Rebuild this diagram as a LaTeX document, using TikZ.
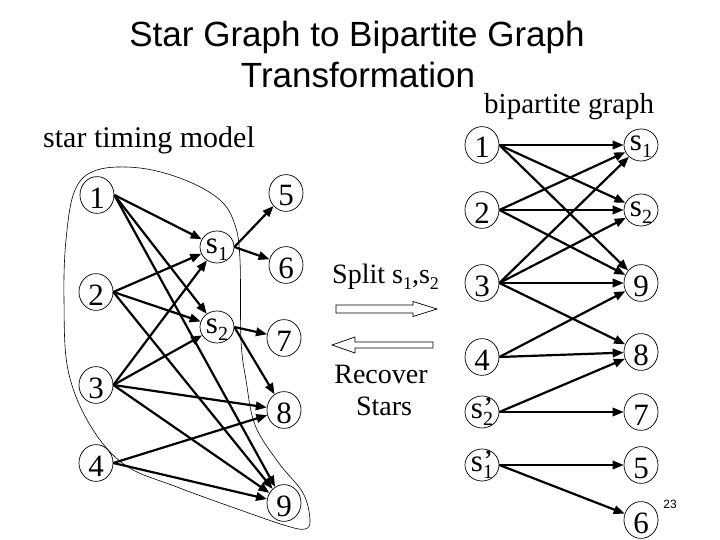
\documentclass[tikz,border=0pt]{standalone}
\usepackage{fontspec}
\setmainfont{Liberation Serif}
\newfontfamily\titlefont{Liberation Sans}
\usetikzlibrary{arrows.meta,shapes.geometric}
\newcommand{\ssub}[1]{s\raisebox{-7pt}{\fontsize{20}{20}\selectfont #1}}
\newcommand{\ssubp}[1]{s\rlap{'}\raisebox{-7pt}{\fontsize{20}{20}\selectfont #1}}
\newcommand{\tsub}[1]{s\raisebox{-6pt}{\fontsize{18}{18}\selectfont #1}}
\begin{document}
\begin{tikzpicture}[x=1pt,y=-1pt,
  vtx/.style={ellipse,draw,line width=0.7pt,minimum width=34pt,minimum height=32pt,inner sep=0pt,
    font=\fontsize{31}{31}\selectfont,text height=26pt,text depth=0pt},
  svtx/.style={vtx,text height=12pt},
  edge/.style={line width=2.2pt,-{Triangle[length=11pt,width=8.5pt]}},
  txt/.style={inner sep=0pt,font=\fontsize{28}{28}\selectfont},
  blockarrow/.style={line width=0.7pt}
  ]
\useasboundingbox (0,0) rectangle (720,540);

% titles
\node[inner sep=0pt,font=\titlefont\fontsize{35}{35}\selectfont,anchor=base] (t1) at (357,47) {Star Graph to Bipartite Graph};
\node[inner sep=0pt,font=\titlefont\fontsize{35}{35}\selectfont,anchor=base] (t2) at (358,88) {Transformation};
\node[txt,font=\fontsize{29}{29}\selectfont,anchor=base west] (bg) at (484,114) {bipartite graph};
\node[txt,font=\fontsize{30}{30}\selectfont,anchor=base west] (stm) at (43,148) {star timing model};
\node[txt,anchor=base west] (split) at (332,283) {Split \tsub1,\tsub2};
\node[txt,anchor=base] (rec) at (381,383) {Recover};
\node[txt,anchor=base] (stars) at (384,415) {Stars};
\node[inner sep=0pt,font=\titlefont\fontsize{12}{12}\selectfont] (pg) at (670,504) {23};

% lasso
\draw[line width=0.6pt] plot[smooth cycle, tension=0.6] coordinates {
 (140,168) (185,180) (220,200) (235,225) (240,260) (241,340) (246,380)
 (255,425) (278,462) (303,493) (310,520) (305,529) (287,526) (243,511)
 (177,487) (125,465) (90,425) (68,370) (64,300) (66,240) (75,190) (97,170)};

% left graph
\node[vtx] (L1) at (97,195) {1};
\node[vtx] (L5) at (286,193) {5};
\node[svtx] (Ls1) at (217,247) {\ssub1};
\node[vtx] (L6) at (286,265) {6};
\node[vtx] (L2) at (96,292) {2};
\node[svtx] (Ls2) at (217,327) {\ssub2};
\node[vtx] (L7) at (284,338) {7};
\node[vtx] (L3) at (96,385) {3};
\node[vtx] (L8) at (284,410) {8};
\node[vtx] (L4) at (96,463) {4};
\node[vtx] (L9) at (284,503) {9};

\draw[edge] (L1.east) -- (Ls1);
\draw[edge] (L1.east) -- (Ls2);
\draw[edge] (L1.east) -- (L9);
\draw[edge] (L2.east) -- (Ls1);
\draw[edge] (L2.east) -- (Ls2);
\draw[edge] (L2.east) -- (L9);
\draw[edge] (L3.east) -- (Ls1);
\draw[edge] (L3.east) -- (Ls2);
\draw[edge] (L3.east) -- (L9);
\draw[edge] (L3.east) -- (L8);
\draw[edge] (L4.east) -- (L8);
\draw[edge] (L4.east) -- (L9);
\draw[edge] (Ls1.east) -- (L5);
\draw[edge] (Ls1.east) -- (L6);
\draw[edge] (Ls2.east) -- (L7);
\draw[edge] (Ls2.east) -- (L8);

% block arrows
\draw[blockarrow] (336,305) -- (413,305) -- (413,301.5) -- (437,309) -- (413,316.5) -- (413,313) -- (336,313) -- cycle;
\draw[blockarrow] (433,342) -- (355,342) -- (355,337) -- (332,345) -- (355,353) -- (355,348) -- (433,348) -- cycle;

% right graph
\node[vtx] (R1) at (482,145) {1};
\node[svtx] (Rs1) at (641,145) {\ssub1};
\node[vtx] (R2) at (482,210) {2};
\node[svtx] (Rs2) at (641,210) {\ssub2};
\node[vtx] (R3) at (482,283) {3};
\node[vtx] (R9) at (641,283) {9};
\node[vtx] (R4) at (482,357) {4};
\node[vtx] (R8) at (641,352) {8};
\node[svtx] (Rs2p) at (482,412) {\ssubp2};
\node[vtx] (R7) at (641,412) {7};
\node[svtx] (Rs1p) at (482,465) {\ssubp1};
\node[vtx] (R5) at (641,465) {5};
\node[vtx] (R6) at (641,520) {6};

\draw[edge] (R1.east) -- (Rs1);
\draw[edge] (R1.east) -- (Rs2);
\draw[edge] (R1.east) -- (R9);
\draw[edge] (R2.east) -- (Rs1);
\draw[edge] (R2.east) -- (Rs2);
\draw[edge] (R2.east) -- (R9);
\draw[edge] (R3.east) -- (Rs1);
\draw[edge] (R3.east) -- (Rs2);
\draw[edge] (R3.east) -- (R9);
\draw[edge] (R3.east) -- (R8);
\draw[edge] (R4.east) -- (R9);
\draw[edge] (R4.east) -- (R8);
\draw[edge] (Rs2p.east) -- (R8);
\draw[edge] (Rs2p.east) -- (R7);
\draw[edge] (Rs1p.east) -- (R5);
\draw[edge] (Rs1p.east) -- (R6);
\end{tikzpicture}
\end{document}
